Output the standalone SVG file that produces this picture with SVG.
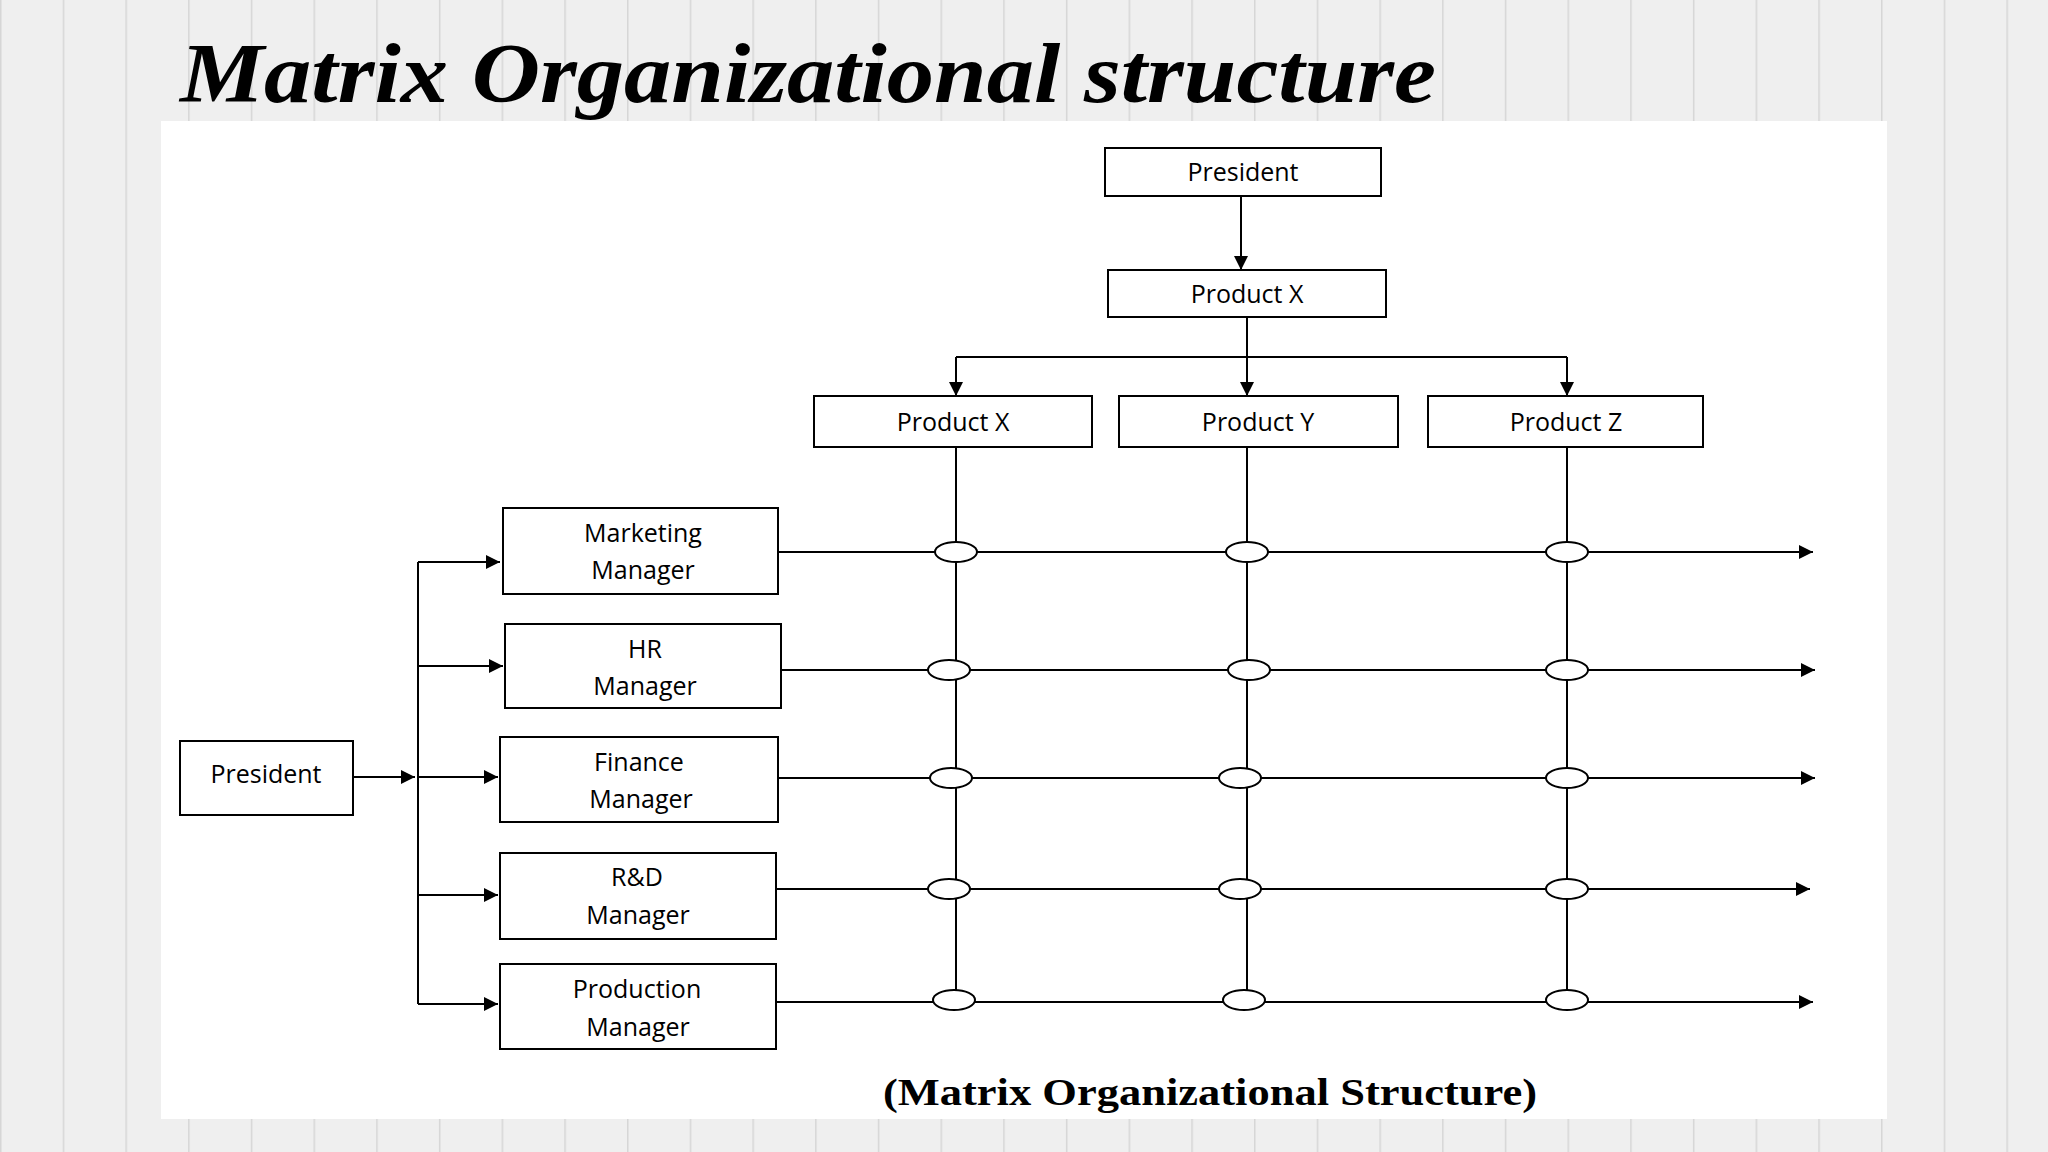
<svg xmlns="http://www.w3.org/2000/svg" width="2048" height="1152" viewBox="0 0 2048 1152">
<defs>
<marker id="ar" viewBox="0 0 10 10" refX="10" refY="5" markerWidth="18" markerHeight="14" markerUnits="userSpaceOnUse" orient="auto"><path d="M0,0 L10,5 L0,10 z" fill="#000"/></marker>
<pattern id="grid" width="62.7" height="1152" patternUnits="userSpaceOnUse"><line x1="0.5" y1="0" x2="0.5" y2="1152" stroke="#d6d6d6" stroke-width="2"/></pattern>
</defs>
<style>
.n rect{fill:#fff;stroke:#000;stroke-width:2}
.n text{font-family:"Open Sans",sans-serif;font-size:25px;text-anchor:middle;fill:#000}
.c line,.c path{stroke:#000;stroke-width:2;fill:none}
.c ellipse{fill:#fff;stroke:#000;stroke-width:2}
</style>
<rect width="2048" height="1152" fill="#efefef"/>
<rect width="2048" height="1152" fill="url(#grid)"/>
<rect x="161" y="121" width="1726" height="998" fill="#fff"/>
<text x="180" y="102" font-family="Liberation Serif,serif" font-style="italic" font-weight="bold" font-size="84" textLength="1256" lengthAdjust="spacingAndGlyphs">Matrix Organizational structure</text>
<g class="c">
<line x1="1241" y1="196" x2="1241" y2="270" marker-end="url(#ar)"/>
<line x1="1247" y1="317" x2="1247" y2="396" marker-end="url(#ar)"/>
<path d="M956,357 H1567"/>
<line x1="956" y1="357" x2="956" y2="396" marker-end="url(#ar)"/>
<line x1="1567" y1="357" x2="1567" y2="396" marker-end="url(#ar)"/>
<line x1="956" y1="447" x2="956" y2="1002"/>
<line x1="1247" y1="447" x2="1247" y2="1002"/>
<line x1="1567" y1="447" x2="1567" y2="1002"/>
<line x1="778" y1="552" x2="1813" y2="552" marker-end="url(#ar)"/>
<line x1="781" y1="670" x2="1815" y2="670" marker-end="url(#ar)"/>
<line x1="778" y1="778" x2="1815" y2="778" marker-end="url(#ar)"/>
<line x1="776" y1="889" x2="1810" y2="889" marker-end="url(#ar)"/>
<line x1="776" y1="1002" x2="1813" y2="1002" marker-end="url(#ar)"/>
<line x1="353" y1="777" x2="415" y2="777" marker-end="url(#ar)"/>
<line x1="418" y1="562" x2="418" y2="1004"/>
<line x1="418" y1="562" x2="500" y2="562" marker-end="url(#ar)"/>
<line x1="418" y1="666" x2="503" y2="666" marker-end="url(#ar)"/>
<line x1="418" y1="777" x2="498" y2="777" marker-end="url(#ar)"/>
<line x1="418" y1="895" x2="498" y2="895" marker-end="url(#ar)"/>
<line x1="418" y1="1004" x2="498" y2="1004" marker-end="url(#ar)"/>
<ellipse cx="956" cy="552" rx="21" ry="10"/><ellipse cx="1247" cy="552" rx="21" ry="10"/><ellipse cx="1567" cy="552" rx="21" ry="10"/>
<ellipse cx="949" cy="670" rx="21" ry="10"/><ellipse cx="1249" cy="670" rx="21" ry="10"/><ellipse cx="1567" cy="670" rx="21" ry="10"/>
<ellipse cx="951" cy="778" rx="21" ry="10"/><ellipse cx="1240" cy="778" rx="21" ry="10"/><ellipse cx="1567" cy="778" rx="21" ry="10"/>
<ellipse cx="949" cy="889" rx="21" ry="10"/><ellipse cx="1240" cy="889" rx="21" ry="10"/><ellipse cx="1567" cy="889" rx="21" ry="10"/>
<ellipse cx="954" cy="1000" rx="21" ry="10"/><ellipse cx="1244" cy="1000" rx="21" ry="10"/><ellipse cx="1567" cy="1000" rx="21" ry="10"/>
</g>
<g id="president-top" class="n"><rect x="1105" y="148" width="276" height="48"/><text x="1243" y="181">President</text></g>
<g id="productx-top" class="n"><rect x="1108" y="270" width="278" height="47"/><text x="1247" y="303">Product X</text></g>
<g id="productx" class="n"><rect x="814" y="396" width="278" height="51"/><text x="953" y="431">Product X</text></g>
<g id="producty" class="n"><rect x="1119" y="396" width="279" height="51"/><text x="1258" y="431">Product Y</text></g>
<g id="productz" class="n"><rect x="1428" y="396" width="275" height="51"/><text x="1566" y="431">Product Z</text></g>
<g id="president-left" class="n"><rect x="180" y="741" width="173" height="74"/><text x="266" y="783">President</text></g>
<g id="marketing" class="n"><rect x="503" y="508" width="275" height="86"/><text x="643" y="542">Marketing</text><text x="643" y="579">Manager</text></g>
<g id="hr" class="n"><rect x="505" y="624" width="276" height="84"/><text x="645" y="658">HR</text><text x="645" y="695">Manager</text></g>
<g id="finance" class="n"><rect x="500" y="737" width="278" height="85"/><text x="639" y="771">Finance</text><text x="641" y="808">Manager</text></g>
<g id="rd" class="n"><rect x="500" y="853" width="276" height="86"/><text x="637" y="886">R&amp;D</text><text x="638" y="924">Manager</text></g>
<g id="production" class="n"><rect x="500" y="964" width="276" height="85"/><text x="637" y="998">Production</text><text x="638" y="1036">Manager</text></g>
<text x="883" y="1105" font-family="Liberation Serif,serif" font-weight="bold" font-size="38" textLength="654" lengthAdjust="spacingAndGlyphs">(Matrix Organizational Structure)</text>
</svg>
